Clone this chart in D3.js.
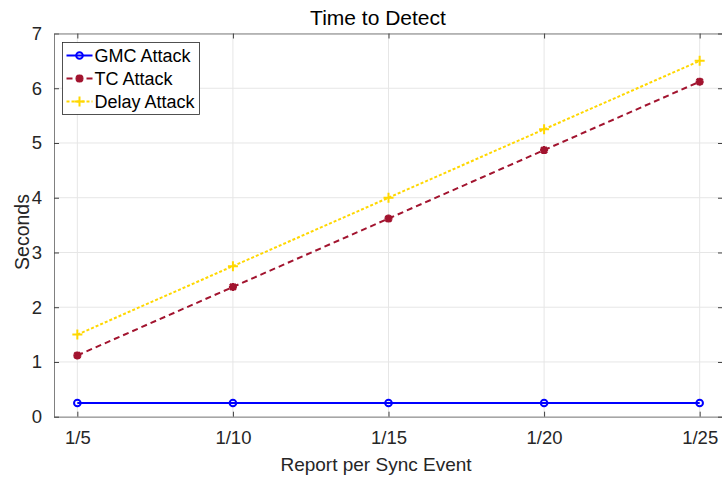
<!DOCTYPE html>
<html>
<head>
<meta charset="utf-8">
<script src="https://cdn.jsdelivr.net/npm/d3@7"></script>
<style>
  body { margin: 0; background: #fff; }
  svg { font-family: "Liberation Sans", Arial, sans-serif; }
</style>
</head>
<body>
<div id="chart"></div>
<script>
const categories = ['1/5', '1/10', '1/15', '1/20', '1/25'];
const gmcAttack = [0.25, 0.25, 0.25, 0.25, 0.25];
const tcAttack = [1.12, 2.37, 3.62, 4.87, 6.12];
const delayAttack = [1.5, 2.75, 4.0, 5.25, 6.5];
const yTicks = [0, 1, 2, 3, 4, 5, 6, 7];

const width = 722, height = 477;
const margin = { top: 33.5, right: -1, bottom: 60.3, left: 54 };
const iw = width - margin.left - margin.right;
const ih = height - margin.top - margin.bottom;

const series = [
  { name: 'GMC Attack', values: gmcAttack, color: '#0000ff', dash: null, marker: 'circle' },
  { name: 'TC Attack', values: tcAttack, color: '#a2142f', dash: '6,4', marker: 'star' },
  { name: 'Delay Attack', values: delayAttack, color: '#ffd700', dash: '3,2', marker: 'plus' }
];

const svg = d3.select('#chart').append('svg')
  .attr('width', width)
  .attr('height', height);

const x = d3.scaleLinear().domain([0.85, 5.15]).range([0, iw]);
const y = d3.scaleLinear().domain([0, 7]).range([ih, 0]);

const g = svg.append('g').attr('transform', `translate(${margin.left},${margin.top})`);

// grid
g.append('g').selectAll('line')
  .data(categories)
  .join('line')
  .attr('x1', (d, i) => x(i + 1)).attr('x2', (d, i) => x(i + 1))
  .attr('y1', 0).attr('y2', ih)
  .attr('stroke', '#e6e6e6');
g.append('g').selectAll('line')
  .data(yTicks)
  .join('line')
  .attr('x1', 0).attr('x2', iw)
  .attr('y1', d => y(d)).attr('y2', d => y(d))
  .attr('stroke', '#e6e6e6');

// axes
const xAxis = d3.axisBottom(x)
  .tickValues(d3.range(1, categories.length + 1))
  .tickFormat(d => categories[d - 1])
  .tickSizeInner(-5).tickSizeOuter(0).tickPadding(14);
const yAxis = d3.axisLeft(y)
  .tickValues(yTicks)
  .tickFormat(d3.format('d'))
  .tickSizeInner(-5).tickSizeOuter(0).tickPadding(12);

g.append('g').attr('transform', `translate(0,${ih})`).call(xAxis);
g.append('g').call(yAxis);
g.append('g')
  .call(d3.axisTop(x).tickValues(d3.range(1, categories.length + 1)).tickFormat('').tickSizeInner(-5).tickSizeOuter(0));
g.append('g').attr('transform', `translate(${iw},0)`)
  .call(d3.axisRight(y).tickValues(yTicks).tickFormat('').tickSizeInner(-5).tickSizeOuter(0));

g.selectAll('.domain').attr('stroke', '#808080');
g.selectAll('.tick line').attr('stroke', '#404040');
g.selectAll('.tick text').attr('fill', '#262626')
  .style('font-size', '18.5px')
  .style('font-family', '"Liberation Sans", Arial, sans-serif');

// lines
const line = d3.line().x((d, i) => x(i + 1)).y(d => y(d));

function drawMarker(sel, type, color) {
  if (type === 'circle') {
    sel.append('circle').attr('r', 3.3).attr('fill', 'none')
      .attr('stroke', color).attr('stroke-width', 2);
  } else if (type === 'star') {
    sel.append('path').attr('d', 'M-4,0H4M0,-4V4M-3,-3L3,3M-3,3L3,-3')
      .attr('stroke', color).attr('stroke-width', 2.5);
    sel.append('circle').attr('r', 2.5).attr('fill', color);
  } else {
    sel.append('path').attr('d', 'M-5,0H5M0,-5V5')
      .attr('stroke', color).attr('stroke-width', 2);
  }
}

series.forEach(s => {
  g.append('path')
    .datum(s.values)
    .attr('d', line)
    .attr('fill', 'none')
    .attr('stroke', s.color)
    .attr('stroke-width', 2)
    .attr('stroke-dasharray', s.dash);
  g.append('g').selectAll('g')
    .data(s.values)
    .join('g')
    .attr('transform', (d, i) => `translate(${x(i + 1)},${y(d)})`)
    .each(function () { drawMarker(d3.select(this), s.marker, s.color); });
});

// legend
const lg = svg.append('g').attr('transform', 'translate(62.5,42.5)');
lg.append('rect').attr('width', 137).attr('height', 72)
  .attr('fill', '#fff').attr('stroke', '#262626').attr('stroke-width', 0.8);
series.forEach((s, i) => {
  const row = lg.append('g').attr('transform', `translate(0,${13 + i * 23})`);
  row.append('line').attr('x1', 4).attr('x2', 30).attr('y1', 0).attr('y2', 0)
    .attr('stroke', s.color).attr('stroke-width', 2).attr('stroke-dasharray', s.dash);
  const m = row.append('g').attr('transform', 'translate(17,0)');
  drawMarker(m, s.marker, s.color);
  row.append('text').attr('x', 32).attr('y', 6.5)
    .style('font-size', '18px').attr('fill', '#000').text(s.name);
});

// titles
svg.append('text').attr('x', 378).attr('y', 25)
  .attr('text-anchor', 'middle').style('font-size', '21px').attr('fill', '#000')
  .text('Time to Detect');
svg.append('text').attr('x', 376).attr('y', 471)
  .attr('text-anchor', 'middle').style('font-size', '19px').attr('fill', '#262626')
  .text('Report per Sync Event');
svg.append('text')
  .attr('transform', `translate(29,232) rotate(-90)`)
  .attr('text-anchor', 'middle').style('font-size', '19.5px').attr('fill', '#262626')
  .text('Seconds');
</script>
</body>
</html>
